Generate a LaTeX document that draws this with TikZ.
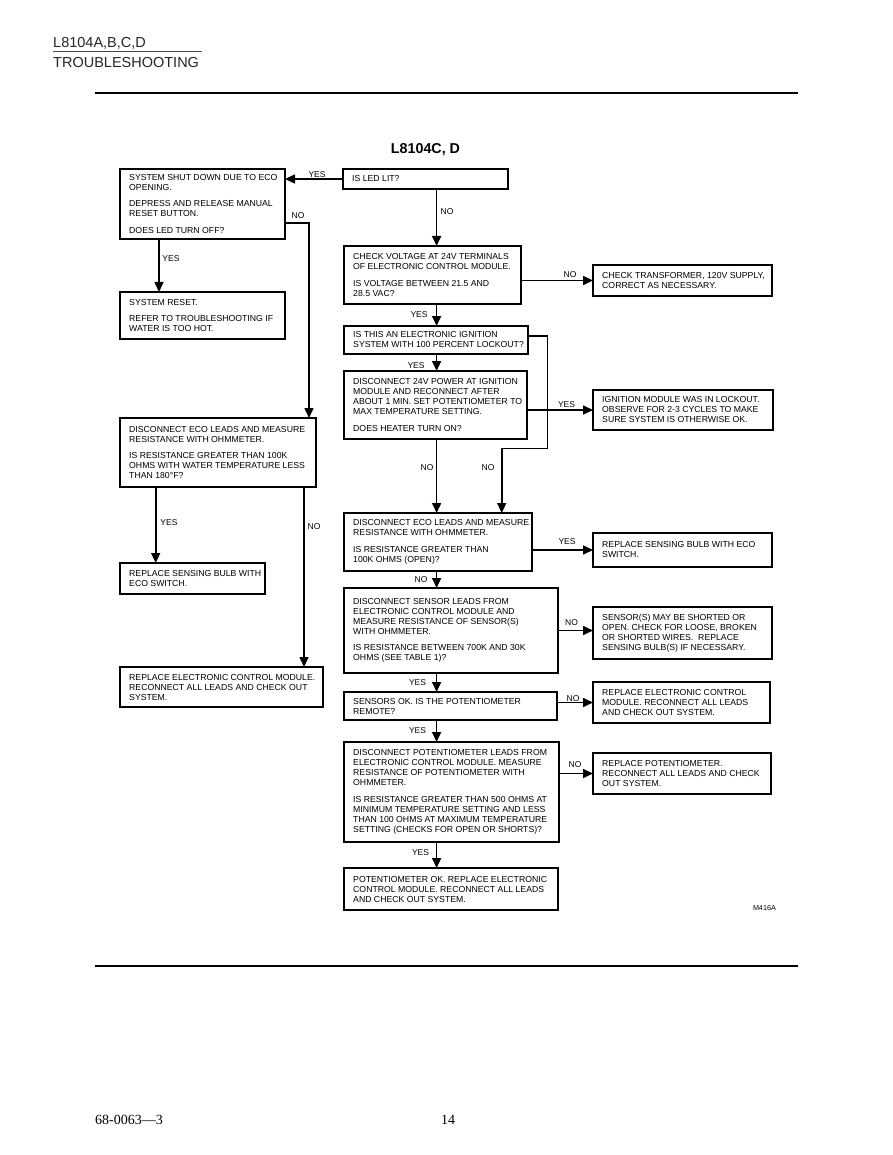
\documentclass[tikz,border=0pt]{standalone}
\usepackage{fontspec}
\setmainfont{Liberation Sans}
\newfontfamily\footserif[Ligatures=TeX]{Liberation Serif}
\usetikzlibrary{arrows.meta}
\tikzset{
  box/.style={draw, line width=2.1pt, inner sep=0pt, outer sep=0pt, anchor=north west},
  txt/.style={inner sep=0pt, align=left, anchor=west, font=\fontsize{8.7pt}{10pt}\selectfont},
  lbl/.style={inner sep=0pt, font=\fontsize{8.5pt}{10pt}\selectfont},
  conn/.style={line width=1.6pt, -{Triangle[length=10pt,width=9pt]}},
  rule/.style={line width=1.8pt},
}
\newcommand\flowbox[6]{%
  \node[box, minimum width={(#4-#2)*1pt}, minimum height={(#5-#3)*1pt}] (#1) at (#2,#3) {};
  \node[txt] (#1t) at ([xshift=9pt]#1.west) {#6};
}
\newcommand\pp{\\[6.5pt]}
\begin{document}
\begin{tikzpicture}[x=1pt,y=-1pt]
\path[fill=white,use as bounding box] (0,0) rectangle (892,1155);

% header
\node[inner sep=0pt, anchor=base west, font=\fontsize{14.5pt}{16pt}\selectfont, text=black!85] (hd1) at (53,47.3) {L8104A,B,C,D};
\node[inner sep=0pt, anchor=base west, font=\fontsize{14.5pt}{16pt}\selectfont, text=black!85] (hd2) at (53,67.3) {TROUBLESHOOTING};
\coordinate (u1) at (53,51.7); \coordinate (u2) at (202,51.7);
\draw[line width=0.8pt, black!70] (u1) -- (u2);
\coordinate (r1) at (95,93); \coordinate (r2) at (798,93);
\draw[rule] (r1) -- (r2);
\coordinate (r3) at (95,966); \coordinate (r4) at (798,966);
\draw[rule] (r3) -- (r4);
\node[inner sep=0pt, anchor=base, font=\bfseries\fontsize{14.3pt}{16pt}\selectfont] (title) at (425.5,153.3) {L8104C, D};
\node[inner sep=0pt, anchor=base east, font=\fontsize{7.2pt}{8pt}\selectfont] (code) at (776,910) {M416A};
\node[inner sep=0pt, anchor=base west, font=\footserif\fontsize{14pt}{16pt}\selectfont] (foot1) at (95,1124) {68-0063—3};
\node[inner sep=0pt, anchor=base, font=\footserif\fontsize{14pt}{16pt}\selectfont] (foot2) at (448,1124) {14};

% boxes
\flowbox{A}{120}{169}{285}{239}{SYSTEM SHUT DOWN DUE TO ECO\\OPENING.\pp DEPRESS AND RELEASE MANUAL\\RESET BUTTON.\pp DOES LED TURN OFF?}
\flowbox{B}{343}{169}{508}{189}{IS LED LIT?}
\flowbox{R1}{120}{292}{285}{339}{SYSTEM RESET.\pp REFER TO TROUBLESHOOTING IF\\WATER IS TOO HOT.}
\flowbox{C}{344}{246}{521}{304}{CHECK VOLTAGE AT 24V TERMINALS\\OF ELECTRONIC CONTROL MODULE.\pp IS VOLTAGE BETWEEN 21.5 AND\\28.5 VAC?}
\flowbox{D}{593}{265}{772}{296}{CHECK TRANSFORMER, 120V SUPPLY,\\CORRECT AS NECESSARY.}
\flowbox{E}{344}{326}{528}{354}{IS THIS AN ELECTRONIC IGNITION\\SYSTEM WITH 100 PERCENT LOCKOUT?}
\flowbox{F}{344}{371}{527}{439}{DISCONNECT 24V POWER AT IGNITION\\MODULE AND RECONNECT AFTER\\ABOUT 1 MIN. SET POTENTIOMETER TO\\MAX TEMPERATURE SETTING.\pp DOES HEATER TURN ON?}
\flowbox{G}{593}{390}{773}{430}{IGNITION MODULE WAS IN LOCKOUT.\\OBSERVE FOR 2-3 CYCLES TO MAKE\\SURE SYSTEM IS OTHERWISE OK.}
\flowbox{L}{120}{418}{316}{487}{DISCONNECT ECO LEADS AND MEASURE\\RESISTANCE WITH OHMMETER.\pp IS RESISTANCE GREATER THAN 100K\\OHMS WITH WATER TEMPERATURE LESS\\THAN 180°F?}
\flowbox{H}{344}{513}{532}{571}{DISCONNECT ECO LEADS AND MEASURE\\RESISTANCE WITH OHMMETER.\pp IS RESISTANCE GREATER THAN\\100K OHMS (OPEN)?}
\flowbox{I}{593}{533}{772}{567}{REPLACE SENSING BULB WITH ECO\\SWITCH.}
\flowbox{M}{120}{563}{265}{594}{REPLACE SENSING BULB WITH\\ECO SWITCH.}
\flowbox{J}{344}{588}{558}{673}{DISCONNECT SENSOR LEADS FROM\\ELECTRONIC CONTROL MODULE AND\\MEASURE RESISTANCE OF SENSOR(S)\\WITH OHMMETER.\pp IS RESISTANCE BETWEEN 700K AND 30K\\OHMS (SEE TABLE 1)?}
\flowbox{K}{593}{607}{772}{659}{SENSOR(S) MAY BE SHORTED OR\\OPEN. CHECK FOR LOOSE, BROKEN\\OR SHORTED WIRES.\ \ REPLACE\\SENSING BULB(S) IF NECESSARY.}
\flowbox{N}{120}{667}{323}{707}{REPLACE ELECTRONIC CONTROL MODULE.\\RECONNECT ALL LEADS AND CHECK OUT\\SYSTEM.}
\flowbox{O}{344}{692}{557}{720}{SENSORS OK. IS THE POTENTIOMETER\\REMOTE?}
\flowbox{P}{593}{682}{770}{723}{REPLACE ELECTRONIC CONTROL\\MODULE. RECONNECT ALL LEADS\\AND CHECK OUT SYSTEM.}
\flowbox{Q}{344}{742}{559}{842}{DISCONNECT POTENTIOMETER LEADS FROM\\ELECTRONIC CONTROL MODULE. MEASURE\\RESISTANCE OF POTENTIOMETER WITH\\OHMMETER.\pp IS RESISTANCE GREATER THAN 500 OHMS AT\\MINIMUM TEMPERATURE SETTING AND LESS\\THAN 100 OHMS AT MAXIMUM TEMPERATURE\\SETTING (CHECKS FOR OPEN OR SHORTS)?}
\flowbox{R}{593}{753}{771}{794}{REPLACE POTENTIOMETER.\\RECONNECT ALL LEADS AND CHECK\\OUT SYSTEM.}
\flowbox{S}{344}{868}{558}{910}{POTENTIOMETER OK. REPLACE ELECTRONIC\\CONTROL MODULE. RECONNECT ALL LEADS\\AND CHECK OUT SYSTEM.}

% routing coordinates
\coordinate (cm) at (436.6,0);
\coordinate (cA) at (159,0);
\coordinate (cL) at (155.7,0);
\coordinate (cN) at (304,0);
\coordinate (aNo) at (309,223);
\coordinate (eR) at (547.5,336);
\coordinate (eB) at (501.7,448.5);

% connectors
\draw[conn] (B.west) -- (B.west -| A.east);
\draw[conn] (A.east |- aNo) -| (L.north -| aNo);
\draw[conn] (A.south -| cA) -- (R1.north -| cA);
\draw[conn] (B.south -| cm) -- (C.north -| cm);
\draw[conn] (C.east |- D.west) -- (D.west);
\draw[conn] (C.south -| cm) -- (E.north -| cm);
\draw[conn] (E.east |- eR) -- (eR) |- (eB) -- (eB |- H.north);
\draw[conn] (E.south -| cm) -- (F.north -| cm);
\draw[conn] (F.east |- G.west) -- (G.west);
\draw[conn] (F.south -| cm) -- (H.north -| cm);
\draw[conn] (L.south -| cL) -- (M.north -| cL);
\draw[conn] (L.south -| cN) -- (N.north -| cN);
\draw[conn] (H.east |- I.west) -- (I.west);
\draw[conn] (H.south -| cm) -- (J.north -| cm);
\draw[conn] (J.east) -- (J.east -| K.west);
\draw[conn] (J.south -| cm) -- (O.north -| cm);
\draw[conn] (O.east |- P.west) -- (P.west);
\draw[conn] (O.south -| cm) -- (Q.north -| cm);
\draw[conn] (Q.east |- R.west) -- (R.west);
\draw[conn] (Q.south -| cm) -- (S.north -| cm);

% connector labels
\node[lbl] (l1) at (317,174.5) {YES};
\node[lbl] (l2) at (298,215.5) {NO};
\node[lbl] (l3) at (171,258.5) {YES};
\node[lbl] (l4) at (447,212) {NO};
\node[lbl] (l5) at (570,275) {NO};
\node[lbl] (l6) at (419,314.5) {YES};
\node[lbl] (l7) at (416,365.5) {YES};
\node[lbl] (l8) at (566.5,405) {YES};
\node[lbl] (l9) at (427,468) {NO};
\node[lbl] (l10) at (488,468) {NO};
\node[lbl] (l11) at (169,523) {YES};
\node[lbl] (l12) at (314,527) {NO};
\node[lbl] (l13) at (567,541.5) {YES};
\node[lbl] (l14) at (421,579.5) {NO};
\node[lbl] (l15) at (571.5,623) {NO};
\node[lbl] (l16) at (417.5,682.5) {YES};
\node[lbl] (l17) at (573,699) {NO};
\node[lbl] (l18) at (417.5,730.5) {YES};
\node[lbl] (l19) at (575,765) {NO};
\node[lbl] (l20) at (420.5,853) {YES};
\end{tikzpicture}
\end{document}
